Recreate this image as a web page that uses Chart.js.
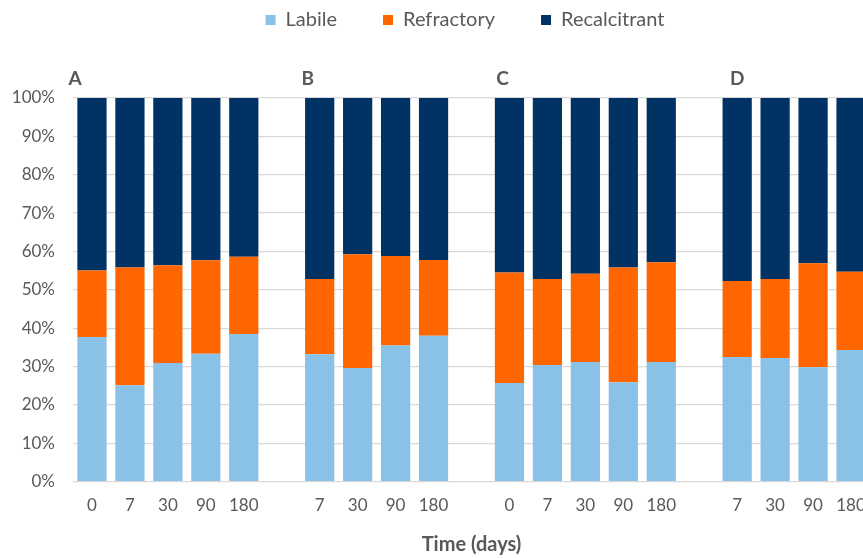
<!DOCTYPE html>
<html>
<head>
<meta charset="utf-8">
<script src="https://cdn.jsdelivr.net/npm/chart.js@4.4.0/dist/chart.umd.min.js"></script>
<style>
  html, body { margin: 0; padding: 0; background: #ffffff; overflow: hidden; }
  #wrap { width: 930px; height: 558px; }
</style>
</head>
<body>
<div id="wrap"><canvas id="c" width="930" height="558"></canvas></div>
<script>
// Sampling days per treatment; empty strings separate the four treatments
const days = ['0', '7', '30', '90', '180', '',
              '7', '30', '90', '180', '',
              '0', '7', '30', '90', '180', '',
              '7', '30', '90', '180'];

// Treatment letters and the index of each treatment's first column
const groups = ['A', 'B', 'C', 'D'];
const groupStart = [0, 6, 11, 17];

// Share of each carbon pool (%)
const labile = [37.7, 25.1, 30.9, 33.3, 38.5, null,
                33.2, 29.6, 35.5, 38.0, null,
                25.7, 30.4, 31.2, 25.9, 31.2, null,
                32.5, 32.2, 29.8, 34.3];
const refractory = [17.3, 30.7, 25.5, 24.4, 20.1, null,
                    19.6, 29.7, 23.3, 19.8, null,
                    28.8, 22.4, 23.0, 29.9, 26.0, null,
                    19.8, 20.6, 27.1, 20.4];
const recalcitrant = [45.0, 44.2, 43.6, 42.3, 41.4, null,
                      47.2, 40.7, 41.2, 42.2, null,
                      45.5, 47.2, 45.8, 44.2, 42.8, null,
                      47.7, 47.2, 43.1, 45.3];

const FONT = 'Lato, "Liberation Sans", sans-serif';
const GREY = '#595959';

// Treatment letters drawn above the first column of each treatment
const groupLetters = {
  id: 'groupLetters',
  afterDraw(chart) {
    const { ctx, chartArea, scales } = chart;
    const nudge = [-17, -12, -7, 0];
    ctx.save();
    ctx.fillStyle = GREY;
    ctx.font = 'bold 19px ' + FONT;
    ctx.textAlign = 'center';
    ctx.textBaseline = 'middle';
    groups.forEach((g, i) => {
      const x = scales.x.getPixelForValue(groupStart[i]) + nudge[i];
      ctx.fillText(g, x, chartArea.top - 19);
    });
    ctx.restore();
  }
};

new Chart(document.getElementById('c'), {
  type: 'bar',
  data: {
    labels: days,
    datasets: [
      { label: 'Labile', data: labile, backgroundColor: '#8AC2E7' },
      { label: 'Refractory', data: refractory, backgroundColor: '#FF6600' },
      { label: 'Recalcitrant', data: recalcitrant, backgroundColor: '#003263' }
    ]
  },
  options: {
    responsive: false,
    animation: false,
    devicePixelRatio: 1,
    datasets: { bar: { barPercentage: 0.77, categoryPercentage: 1.0 } },
    layout: { padding: { top: -36, bottom: 1, left: 0, right: 0 } },
    plugins: {
      legend: {
        position: 'top',
        labels: {
          boxWidth: 10, boxHeight: 10, padding: 46,
          color: GREY, font: { family: FONT, size: 20 }
        }
      },
      tooltip: { enabled: false }
    },
    scales: {
      x: {
        stacked: true,
        grid: { display: false, drawTicks: false },
        border: { display: false },
        ticks: {
          color: GREY, font: { family: FONT, size: 17 },
          padding: 14, autoSkip: false, maxRotation: 0
        },
        title: {
          display: true, text: 'Time (days)', color: GREY,
          font: { family: FONT, size: 20, weight: 'bold' },
          padding: { top: 3, bottom: 0 }
        }
      },
      xTop: {
        type: 'category',
        position: 'top',
        grid: { display: false, drawTicks: false },
        border: { display: false },
        ticks: { display: false },
        afterFit(s) { s.height = 58; }
      },
      y: {
        stacked: true,
        min: 0, max: 100,
        grid: { color: '#D9D9D9', lineWidth: 1.3, drawTicks: false },
        border: { display: false },
        ticks: {
          stepSize: 10, padding: 18, color: GREY,
          font: { family: FONT, size: 17 },
          callback: v => v + '%'
        },
        afterFit(s) { s.width = 73; }
      },
      yPad: {
        type: 'linear',
        position: 'right',
        grid: { display: false, drawTicks: false },
        border: { display: false },
        ticks: { display: false },
        afterFit(s) { s.width = 60; }
      }
    }
  },
  plugins: [groupLetters]
});
</script>
</body>
</html>
